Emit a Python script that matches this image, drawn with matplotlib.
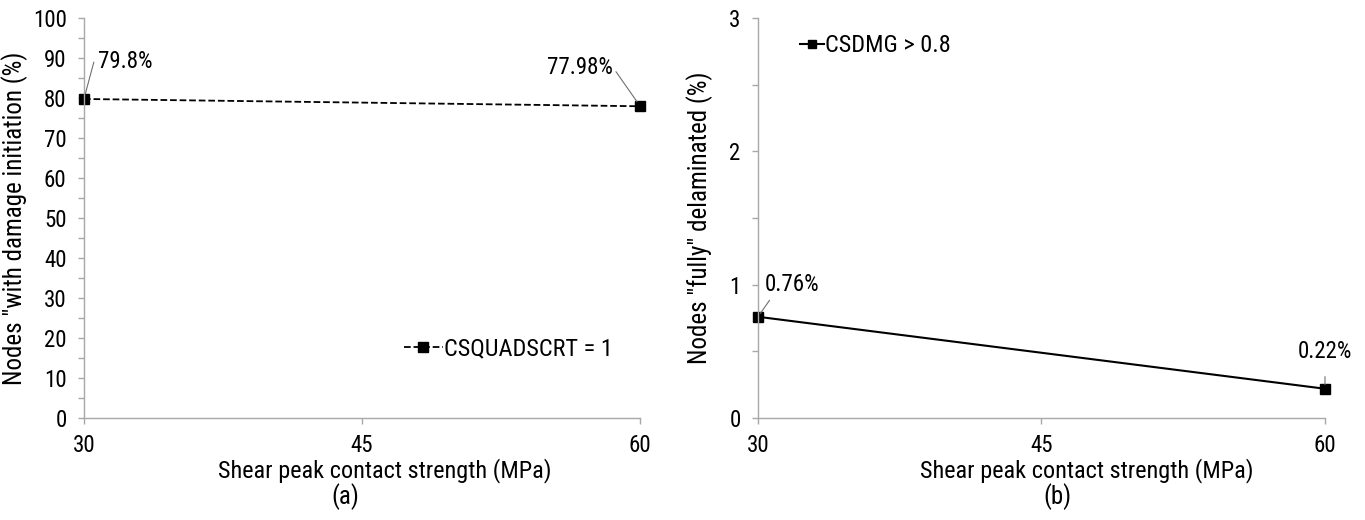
import matplotlib
matplotlib.use("Agg")
import matplotlib.pyplot as plt
from matplotlib.ticker import MultipleLocator

plt.rcParams['font.family'] = ['Liberation Sans Narrow', 'DejaVu Sans Condensed',
                               'Roboto Condensed', 'Lato', 'DejaVu Sans']

# data
strength = [30, 60]
initiation = [79.8, 77.98]
delaminated = [0.76, 0.22]
init_labels = ['79.8%', '77.98%']
delam_labels = ['0.76%', '0.22%']
xticks = [30, 45, 60]

fig = plt.figure(figsize=(13.65, 5.2), dpi=100)
ax1 = fig.add_axes([0.0615, 0.196, 0.4075, 0.769])
ax2 = fig.add_axes([0.5553, 0.196, 0.4154, 0.769])

grey = '#a8a8a8'
for ax in (ax1, ax2):
    for s in ('top', 'right'):
        ax.spines[s].set_visible(False)
    for s in ('left', 'bottom'):
        ax.spines[s].set_color(grey)
        ax.spines[s].set_linewidth(1.0)
    ax.set_xlim(30, 60)
    ax.set_xticks(xticks)
    ax.tick_params(which='both', color=grey, labelsize=16.5, length=4.5, width=1)
    ax.tick_params(axis='y', pad=8)
    ax.tick_params(axis='x', pad=7)
    ax.set_xlabel('Shear peak contact strength (MPa)', fontsize=17.5)
    ax.xaxis.set_label_coords(0.54 if ax is ax1 else 0.58, -0.1)

# (a)
ax1.plot(strength, initiation, color='black', ls='--', lw=1.3, marker='s',
         ms=7.5, clip_on=False, label='CSQUADSCRT = 1')
ax1.set_ylim(0, 100)
ax1.yaxis.set_major_locator(MultipleLocator(10))
ax1.yaxis.set_minor_locator(MultipleLocator(5))
ax1.set_ylabel('Nodes "with damage initiation (%)', fontsize=18)
ax1.yaxis.set_label_coords(-0.1, 0.5)
ax1.annotate(init_labels[0], xy=(strength[0], initiation[0]), xytext=(10, 27),
             textcoords='offset points', fontsize=16.5, va='center', ha='left',
             arrowprops=dict(arrowstyle='-', color='#707070', lw=0.8,
                             shrinkA=1, shrinkB=4,
                             connectionstyle='angle,angleA=0,angleB=75,rad=0'))
ax1.annotate(init_labels[1], xy=(strength[1], initiation[1]), xytext=(-20, 28),
             textcoords='offset points', fontsize=16.5, va='center', ha='right',
             arrowprops=dict(arrowstyle='-', color='#707070', lw=0.8,
                             shrinkA=1, shrinkB=4,
                             connectionstyle='angle,angleA=0,angleB=125,rad=0'))
ax1.legend(loc='lower right', bbox_to_anchor=(0.99, 0.09), frameon=False,
           fontsize=17.5, handlelength=1.6, handletextpad=0.05)
fig.text(0.253, 0.046, '(a)', fontsize=18, ha='center', va='center')

# (b)
ax2.plot(strength, delaminated, color='black', ls='-', lw=1.5, marker='s',
         ms=6.5, clip_on=False, label='CSDMG > 0.8')
ax2.set_ylim(0, 3)
ax2.yaxis.set_major_locator(MultipleLocator(1))
ax2.yaxis.set_minor_locator(MultipleLocator(0.5))
ax2.set_ylabel('Nodes "fully" delaminated (%)', fontsize=18)
ax2.yaxis.set_label_coords(-0.08, 0.5)
ax2.annotate(delam_labels[0], xy=(strength[0], delaminated[0]), xytext=(5, 23),
             textcoords='offset points', fontsize=16.5, va='center', ha='left',
             arrowprops=dict(arrowstyle='-', color='#707070', lw=0.8,
                             shrinkA=1, shrinkB=3,
                             connectionstyle='angle,angleA=0,angleB=55,rad=0'))
ax2.annotate(delam_labels[1], xy=(strength[1], delaminated[1]), xytext=(0, 27),
             textcoords='offset points', fontsize=16.5, va='center', ha='center',
             arrowprops=dict(arrowstyle='-', color='#707070', lw=0.8,
                             shrinkA=8, shrinkB=3))
ax2.legend(loc='upper left', bbox_to_anchor=(0.035, 1.015), frameon=False,
           fontsize=17.5, handlelength=1.0, handletextpad=0.05, markerscale=0.8)
fig.text(0.775, 0.046, '(b)', fontsize=18, ha='center', va='center')

fig.savefig('out.png', dpi=100)
